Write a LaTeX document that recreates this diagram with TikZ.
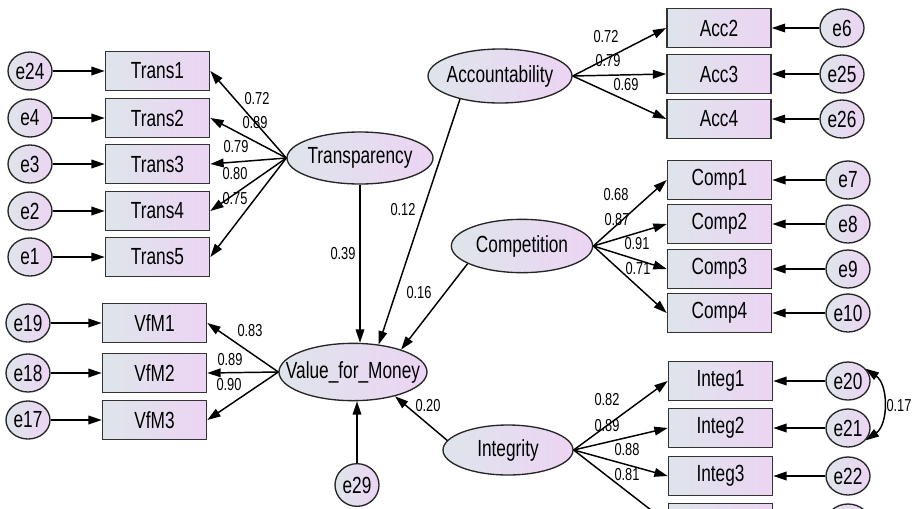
\documentclass[tikz,border=0pt]{standalone}
\usepackage{fontspec}
\setmainfont{Liberation Sans}[FakeStretch=0.74]
\usetikzlibrary{
  arrows.meta,
  shapes.geometric
}
\definecolor{amosblue}{RGB}{222,229,234}
\definecolor{amoslilac}{RGB}{236,212,244}

\begin{document}
\begin{tikzpicture}[
  x=0.75pt, y=-0.75pt,
  every node/.style={font=\fontsize{17.5}{19}\selectfont},
  obs/.style={
    draw=black!80, line width=1.2pt,
    left color=amosblue, right color=amoslilac,
    minimum width=78pt, minimum height=29pt, inner sep=0pt
  },
  latent/.style={
    ellipse, draw=black!85, line width=1pt,
    left color=amosblue, right color=amoslilac, inner sep=0pt
  },
  factor/.style 2 args={
    latent, minimum width=#1, minimum height=#2
  },
  err/.style={
    latent, minimum width=33pt, minimum height=28.5pt
  },
  link/.style={-{Triangle[length=10pt,width=6.5pt]}, line width=1.1pt},
  coef/.style={font=\fontsize{13}{15}\selectfont, inner sep=0pt}
]
\useasboundingbox (0,0) rectangle (917,508);
\clip (0,0) rectangle (917,508);

\node[factor={109.5pt}{39pt}, label=center:Transparency] (transp) at (360,158) {};
\node[factor={111pt}{43pt}, label=center:Value\_for\_Money] (vfm) at (353,372) {};
\node[factor={108pt}{40.5pt}, label=center:Accountability] (acc) at (500,76) {};
\node[factor={106pt}{40pt}, label=center:Competition] (comp) at (522,246) {};
\node[factor={97.5pt}{37.5pt}, label=center:Integrity] (integ) at (508,450) {};
\node[err, minimum height=32pt] (e29) at (357,485) {e29};

\foreach \n/\e/\y in {1/24/71, 2/4/118, 3/3/164, 4/2/211, 5/1/257}{
  \node[err] (e\e) at (30,\y) {e\e};
  \node[obs] (trans\n) at (157.5,\y) {Trans\n};
  \draw[link] (e\e) -- (trans\n);
  \draw[link] (transp.west) -- (trans\n.east);
}
\foreach \n/\e/\y in {1/19/323, 2/18/373, 3/17/420}{
  \node[err] (e\e) at (28,\y) {e\e};
  \node[obs] (vfm\n) at (154.5,\y) {VfM\n};
  \draw[link] (e\e) -- (vfm\n);
  \draw[link] (vfm.west) -- (vfm\n.east);
}
\foreach \n/\e/\y in {2/6/28, 3/25/74, 4/26/119}{
  \node[err] (e\e) at (842,\y) {e\e};
  \node[obs] (acc\n) at (719,\y) {Acc\n};
  \draw[link] (e\e) -- (acc\n);
  \draw[link] (acc.east) -- (acc\n.west);
}
\foreach \n/\e/\y in {1/7/180, 2/8/224, 3/9/269, 4/10/313}{
  \node[err] (e\e) at (848,\y) {e\e};
  \node[obs] (comp\n) at (719.5,\y) {Comp\n};
  \draw[link] (e\e) -- (comp\n);
  \draw[link] (comp.east) -- (comp\n.west);
}
\foreach \n/\e/\y in {1/20/381, 2/21/428, 3/22/476}{
  \node[err] (e\e) at (848,\y) {e\e};
  \node[obs] (integ\n) at (720.5,\y) {Integ\n};
  \draw[link] (e\e) -- (integ\n);
  \draw[link] (integ.east) -- (integ\n.west);
}
\node[obs] (integ4) at (720.5,523) {};
\node[err] (e23) at (848,523) {};
\draw[link] (integ.east) -- (integ4.west);

\draw[link] (transp.south) -- (transp.south |- vfm.north);
\draw[link] (acc.210) -- (vfm.47);
\draw[link] (comp.198) -- (vfm.25);
\draw[link] (integ.171) -- (vfm.-30);
\draw[link] (e29.north) -- (e29.north |- vfm.south);
\draw[{Triangle[length=10pt,width=6.5pt]}-{Triangle[length=10pt,width=6.5pt]}, line width=1.1pt]
  (e20.35) to[bend left=55] (e21.-35);

\node[coef] (t1) at (257,99) {0.72};
\node[coef] (t2) at (255,123) {0.89};
\node[coef] (t3) at (236,147) {0.79};
\node[coef] (t4) at (235,174) {0.80};
\node[coef] (t5) at (235,199) {0.75};
\node[coef] (v1) at (250,331) {0.83};
\node[coef] (v2) at (230,360) {0.89};
\node[coef] (v3) at (229,385) {0.90};
\node[coef] (a2) at (606,37) {0.72};
\node[coef] (a3) at (608,61) {0.79};
\node[coef] (a4) at (626,85) {0.69};
\node[coef] (c1) at (616,195) {0.68};
\node[coef] (c2) at (617,220) {0.87};
\node[coef] (c3) at (637,244) {0.91};
\node[coef] (c4) at (638,269) {0.71};
\node[coef] (i1) at (607,400) {0.82};
\node[coef] (i2) at (607,426) {0.89};
\node[coef] (i3) at (627,450) {0.88};
\node[coef] (i4) at (627,475) {0.81};
\node[coef] (g1) at (343,254) {0.39};
\node[coef] (g2) at (403,210) {0.12};
\node[coef] (g3) at (419,293) {0.16};
\node[coef] (g4) at (428,406) {0.20};
\node[coef] (r1) at (899,406) {0.17};
\end{tikzpicture}
\end{document}
